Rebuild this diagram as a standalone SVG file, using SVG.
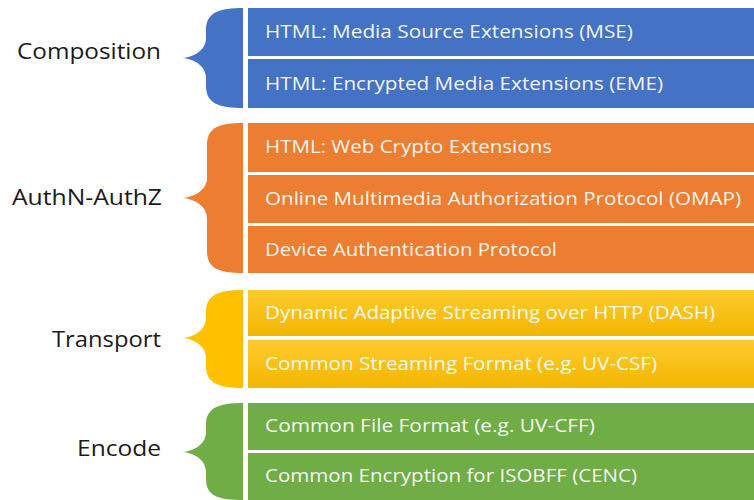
<svg xmlns="http://www.w3.org/2000/svg" width="754" height="500" viewBox="0 0 754 500">
  <defs>
    <linearGradient id="ygrad" x1="0" y1="0" x2="0" y2="1">
      <stop offset="0" stop-color="#FFCB2E"/>
      <stop offset="1" stop-color="#F2B600"/>
    </linearGradient>
    <style>
      .lbl { font-family: "Open Sans", "Liberation Sans", sans-serif; font-size: 22px; fill: #1a1a1a; text-anchor: end; }
      .bt { font-family: "Open Sans", "Liberation Sans", sans-serif; font-size: 18px; fill: #ffffff; fill-opacity: 0.95; }
      .blue { fill: #4472C4; }
      .orange { fill: #ED7D31; }
      .yellow { fill: url(#ygrad); }
      .ybr { fill: #FFC000; }
      .green { fill: #70AD47; }
    </style>
  </defs>
  <rect width="754" height="500" fill="#ffffff"/>

  <g id="composition">
    <path class="blue" d="M243,8 C220,8 206,12 206,30 L206,38 C206,50 194,58 180,58 C194,58 206,66 206,78 L206,86 C206,104 220,108 243,108 Z"/>
    <text class="lbl" x="161" y="59" textLength="144" lengthAdjust="spacingAndGlyphs">Composition</text>
    <rect class="blue" x="248" y="8" width="506" height="48"/>
    <text class="bt" x="265" y="38" textLength="368" lengthAdjust="spacingAndGlyphs">HTML: Media Source Extensions (MSE)</text>
    <rect class="blue" x="248" y="59" width="506" height="49"/>
    <text class="bt" x="265" y="90" textLength="398" lengthAdjust="spacingAndGlyphs">HTML: Encrypted Media Extensions (EME)</text>
  </g>

  <g id="authn-authz">
    <path class="orange" d="M243,123 C220,123 207,127 207,145 L207,178 C207,190 194,198 180,198 C194,198 207,206 207,218 L207,251 C207,269 220,273 243,273 Z"/>
    <text class="lbl" x="162" y="205" textLength="150" lengthAdjust="spacingAndGlyphs">AuthN-AuthZ</text>
    <rect class="orange" x="248" y="123" width="506" height="49"/>
    <text class="bt" x="265" y="153" textLength="287" lengthAdjust="spacingAndGlyphs">HTML: Web Crypto Extensions</text>
    <rect class="orange" x="248" y="175" width="506" height="48"/>
    <text class="bt" x="265" y="205" textLength="476" lengthAdjust="spacingAndGlyphs">Online Multimedia Authorization Protocol (OMAP)</text>
    <rect class="orange" x="248" y="226" width="506" height="47"/>
    <text class="bt" x="265" y="256" textLength="292" lengthAdjust="spacingAndGlyphs">Device Authentication Protocol</text>
  </g>

  <g id="transport">
    <path class="ybr" d="M243,290 C220,290 206,294 206,312 L206,318 C206,330 194,338 180,338 C194,338 206,346 206,358 L206,366 C206,384 220,388 243,388 Z"/>
    <text class="lbl" x="161" y="347" textLength="109" lengthAdjust="spacingAndGlyphs">Transport</text>
    <rect class="yellow" x="248" y="290" width="506" height="46"/>
    <text class="bt" x="265" y="319" textLength="450" lengthAdjust="spacingAndGlyphs">Dynamic Adaptive Streaming over HTTP (DASH)</text>
    <rect class="yellow" x="248" y="340" width="506" height="48"/>
    <text class="bt" x="265" y="370" textLength="392" lengthAdjust="spacingAndGlyphs">Common Streaming Format (e.g. UV-CSF)</text>
  </g>

  <g id="encode">
    <path class="green" d="M243,403 C220,403 206,407 206,425 L206,432 C206,444 194,452 180,452 C194,452 206,460 206,472 L206,479 C206,497 220,500 243,500 Z"/>
    <text class="lbl" x="161" y="456" textLength="84" lengthAdjust="spacingAndGlyphs">Encode</text>
    <rect class="green" x="248" y="403" width="506" height="47"/>
    <text class="bt" x="265" y="432" textLength="330" lengthAdjust="spacingAndGlyphs">Common File Format (e.g. UV-CFF)</text>
    <rect class="green" x="248" y="453" width="506" height="47"/>
    <text class="bt" x="265" y="482" textLength="372" lengthAdjust="spacingAndGlyphs">Common Encryption for ISOBFF (CENC)</text>
  </g>

  <g id="connectors"></g>
</svg>
